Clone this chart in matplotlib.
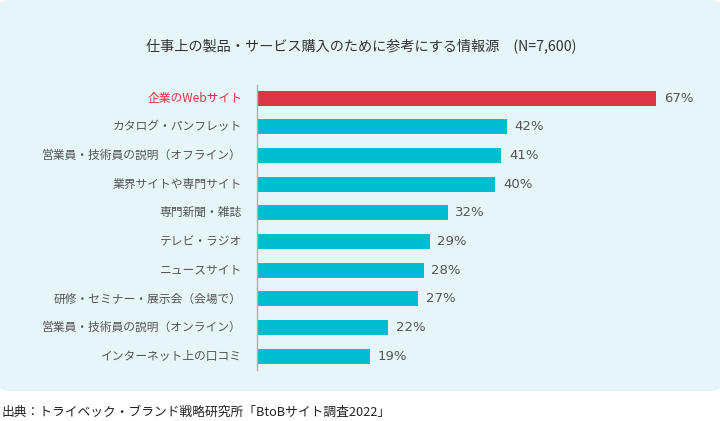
import matplotlib.pyplot as plt
from matplotlib.patches import FancyBboxPatch

plt.rcParams['font.family'] = ['Noto Sans CJK JP', 'DejaVu Sans']

labels = ['企業のWebサイト', 'カタログ・パンフレット', '営業員・技術員の説明（オフライン）',
          '業界サイトや専門サイト', '専門新聞・雑誌', 'テレビ・ラジオ', 'ニュースサイト',
          '研修・セミナー・展示会（会場で）', '営業員・技術員の説明（オンライン）',
          'インターネット上の口コミ']
values = [67, 42, 41, 40, 32, 29, 28, 27, 22, 19]
title = '仕事上の製品・サービス購入のために参考にする情報源　(N=7,600)'
source = '出典：トライベック・ブランド戦略研究所「BtoBサイト調査2022」'

red = '#dc3545'
cyan = '#00bccf'
text_gray = '#555555'

W, H = 720, 421
fig = plt.figure(figsize=(W / 100, H / 100), dpi=100)
fig.patch.set_facecolor('white')

# light panel behind the chart
panel = FancyBboxPatch((0, (H - 391) / H), 1.0, 391 / H,
                       boxstyle='round,pad=0,rounding_size=0.012',
                       transform=fig.transFigure, facecolor='#e6f5f7',
                       edgecolor='none', zorder=-1)
fig.patches.append(panel)

ax = fig.add_axes([257 / W, (H - 370) / H, 440 / W, 285 / H])
ax.set_zorder(2)
ax.set_facecolor('none')
ax.set_xlim(0, 440 / (399 / 67))
ax.set_ylim(len(values) - 0.52, -0.46)

ypos = list(range(len(values)))
colors = [red] + [cyan] * (len(values) - 1)
ax.barh(ypos, values, height=0.53, color=colors, zorder=2)

for y, v, lab, c in zip(ypos, values, labels, colors):
    ax.text(v + 1.3, y, f'{v}%', va='center', ha='left', fontsize=9.5,
            color=text_gray, family=['DejaVu Sans'])
    ax.text(-2.5, y, lab, va='center', ha='right', fontsize=8.5,
            color=red if c == red else text_gray)

for s in ['top', 'right', 'bottom']:
    ax.spines[s].set_visible(False)
ax.spines['left'].set_color('#b0b0b0')
ax.spines['left'].set_linewidth(1)
ax.set_xticks([])
ax.set_yticks([])

fig.text(361 / W, 1 - 47 / H, title, ha='center', va='center', fontsize=10.2,
         color='#333333')
fig.text(2 / W, 1 - 412 / H, source, ha='left', va='center', fontsize=9.2,
         color='#222222')

plt.savefig('out.png', dpi=100)
